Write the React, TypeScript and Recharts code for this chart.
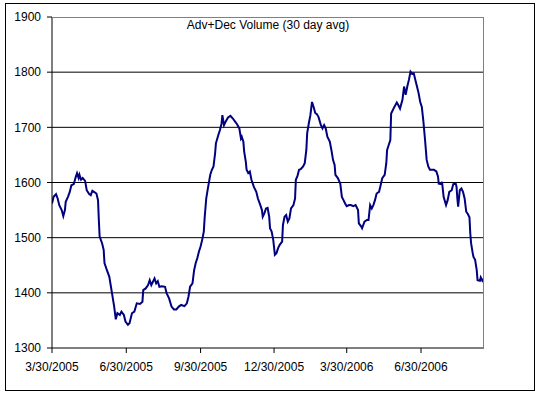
import { CartesianGrid, Line, LineChart, XAxis, YAxis } from 'recharts'

// days since 3/30/2005 and the 30 day average of adv+dec volume
const days = [
  0, 2, 5, 7, 9, 12, 14, 16, 17, 20, 22, 24, 27, 29, 31, 33, 34, 36, 38, 41,
  43, 46, 48, 50, 52, 55, 57, 58, 59, 62, 64, 65, 68, 71, 73, 75, 77, 79, 81, 84,
  86, 89, 91, 94, 96, 99, 102, 105, 109, 112, 113, 116, 119, 121, 123, 125, 127, 129, 131, 133,
  136, 140, 142, 145, 148, 151, 154, 157, 160, 164, 167, 169, 171, 174, 176, 178, 180, 182, 184, 186,
  188, 189, 191, 193, 196, 198, 200, 202, 203, 206, 208, 210, 211, 213, 215, 218, 221, 224, 227, 229,
  232, 234, 235, 237, 238, 240, 241, 243, 245, 247, 250, 253, 255, 258, 260, 261, 263, 265, 267, 269,
  270, 272, 274, 276, 278, 280, 282, 285, 286, 288, 290, 292, 294, 296, 299, 301, 302, 304, 306, 308,
  311, 313, 315, 316, 318, 320, 322, 324, 326, 328, 330, 333, 335, 337, 339, 341, 344, 346, 348, 350,
  351, 354, 357, 359, 361, 363, 365, 368, 370, 373, 376, 379, 380, 383, 384, 387, 390, 392, 394, 396,
  398, 400, 402, 405, 407, 409, 412, 414, 415, 417, 419, 420, 422, 424, 427, 429, 431, 434, 436, 438,
  440, 442, 444, 446, 448, 450, 452, 454, 456, 458, 460, 462, 464, 466, 468, 473, 476, 478, 479, 482,
  483, 485, 488, 490, 492, 495, 496, 497, 500, 501, 502, 503, 505, 507, 509, 511, 513, 515, 517, 518,
  519, 521, 522, 524, 526, 527, 530, 531, 533, 535,
]

const volume = [
  1562, 1574, 1579, 1571, 1559, 1550, 1539, 1550, 1565, 1575, 1583, 1595, 1597, 1608, 1617, 1608, 1614, 1605, 1608, 1603,
  1586, 1579, 1577, 1585, 1583, 1580, 1568, 1532, 1502, 1490, 1478, 1454, 1441, 1429, 1411, 1393, 1375, 1352, 1363, 1360,
  1366, 1360, 1348, 1342, 1345, 1363, 1366, 1381, 1380, 1384, 1405, 1408, 1414, 1423, 1414, 1420, 1426, 1417, 1421, 1411,
  1412, 1411, 1399, 1390, 1375, 1370, 1370, 1375, 1378, 1376, 1381, 1393, 1411, 1417, 1441, 1454, 1463, 1475, 1484, 1496,
  1511, 1535, 1571, 1589, 1614, 1623, 1629, 1653, 1671, 1686, 1695, 1707, 1722, 1704, 1710, 1718, 1721, 1716, 1710, 1706,
  1698, 1680, 1683, 1674, 1656, 1638, 1623, 1617, 1620, 1605, 1592, 1583, 1571, 1559, 1550, 1538, 1544, 1553, 1554, 1538,
  1517, 1511, 1496, 1469, 1472, 1481, 1487, 1493, 1523, 1538, 1541, 1529, 1535, 1553, 1559, 1571, 1605, 1612, 1623, 1624,
  1629, 1635, 1659, 1689, 1707, 1722, 1746, 1737, 1726, 1724, 1719, 1704, 1698, 1704, 1698, 1683, 1674, 1659, 1641, 1632,
  1614, 1608, 1598, 1574, 1568, 1562, 1557, 1559, 1559, 1557, 1559, 1550, 1526, 1520, 1517, 1529, 1532, 1532, 1559, 1553,
  1559, 1568, 1580, 1583, 1595, 1608, 1614, 1635, 1659, 1668, 1677, 1725, 1731, 1737, 1745, 1740, 1734, 1750, 1774, 1759,
  1774, 1786, 1801, 1797, 1798, 1786, 1774, 1762, 1746, 1737, 1710, 1677, 1641, 1629, 1623, 1623, 1620, 1611, 1598, 1597,
  1601, 1574, 1559, 1568, 1583, 1586, 1592, 1597, 1598, 1592, 1571, 1556, 1586, 1589, 1583, 1571, 1547, 1543, 1537, 1508,
  1490, 1472, 1465, 1460, 1441, 1423, 1422, 1428, 1422, 1426,
]

const tickDays = [0, 92, 184, 275, 365, 457]
const tickLabels = ['3/30/2005', '6/30/2005', '9/30/2005', '12/30/2005', '3/30/2006', '6/30/2006']
const yTicks = [1300, 1400, 1500, 1600, 1700, 1800, 1900]
const gridValues = [1400, 1500, 1600, 1700, 1800]

const data = days.map((d, i) => ({ day: d, vol: volume[i] }))

const font = { fontFamily: '"Liberation Sans", Arial, sans-serif', fontSize: 12, fill: '#000' }

export default function App() {
  return (
    <div style={{ position: 'absolute', left: 0, top: 0, width: 540, height: 395, background: '#fff' }}>
      <div
        style={{
          position: 'absolute',
          left: 5,
          top: 3,
          width: 528,
          height: 386,
          border: '1px solid #000',
        }}
      />
      <LineChart
        width={540}
        height={395}
        data={data}
        margin={{ top: 17, right: 56, bottom: 0, left: 5 }}
        style={{ position: 'absolute', left: 0, top: 0 }}
      >
        <CartesianGrid vertical={false} stroke="#000" horizontalValues={gridValues} />
        <XAxis
          dataKey="day"
          type="number"
          domain={[0, 535]}
          ticks={tickDays}
          tickFormatter={(v) => tickLabels[tickDays.indexOf(v)] ?? ''}
          interval={0}
          height={47}
          tickSize={5}
          tickMargin={9}
          stroke="#000"
          tick={font}
          allowDataOverflow
        />
        <YAxis
          domain={[1300, 1900]}
          ticks={yTicks}
          interval={0}
          width={47}
          tickSize={5}
          tickMargin={6}
          stroke="#000"
          tick={font}
        />
        <Line
          dataKey="vol"
          stroke="#000080"
          strokeWidth={2}
          dot={false}
          type="linear"
          isAnimationActive={false}
        />
      </LineChart>
      <div
        style={{
          position: 'absolute',
          left: 52,
          top: 17,
          width: 431,
          height: 330,
          borderTop: '1px solid #808080',
          borderRight: '1px solid #808080',
          pointerEvents: 'none',
        }}
      />
      <div
        style={{
          position: 'absolute',
          left: 52,
          width: 432,
          top: 18,
          textAlign: 'center',
          fontFamily: '"Liberation Sans", Arial, sans-serif',
          fontSize: 12,
          lineHeight: '14px',
          color: '#000',
        }}
      >
        Adv+Dec Volume (30 day avg)
      </div>
    </div>
  )
}
